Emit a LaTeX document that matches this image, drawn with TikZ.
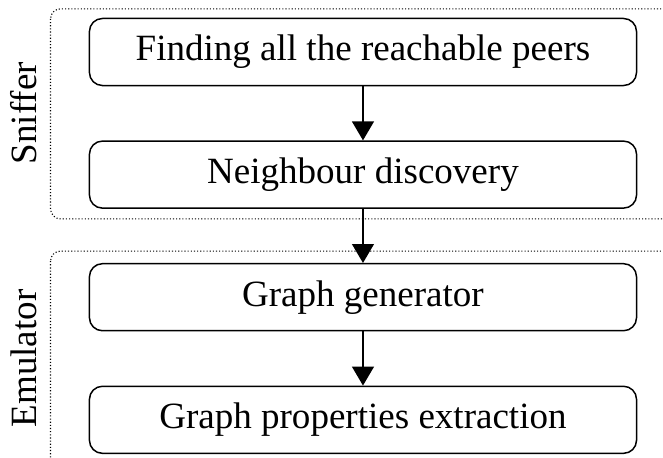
\documentclass[tikz,border=0pt]{standalone}
\usepackage{fontspec}
\setmainfont{Liberation Serif}
\usepackage{tikz}
\usetikzlibrary{arrows.meta}
\usetikzlibrary{positioning}
\usetikzlibrary{calc}
\tikzstyle{stage}=[draw,rounded corners=3.5pt,minimum width=147.7pt,minimum height=18.1pt,inner sep=1pt]
\tikzstyle{group}=[rounded corners=2.7pt,line width=0.3pt,dash pattern=on 0.3pt off 0.55pt]
\tikzstyle{flow}=[-{Triangle[length=5.1pt,width=5.9pt]}]

\begin{document}
\begin{tikzpicture}[node distance=14.6pt]
\useasboundingbox (-98pt,14.04pt) rectangle (81pt,-109.4pt);
\node [stage] (find) {Finding all the reachable peers};
\node [stage,below=of find] (neigh) {Neighbour discovery};
\node [stage,below=of neigh] (gen) {Graph generator};
\node [stage,below=of gen] (prop) {Graph properties extraction};
% dotted groups
\draw [group] ($(find.north west)+(-10.3pt,2.4pt)$) rectangle ($(neigh.south east)+(60pt,-2.7pt)$);
\draw [group] ($(gen.north west)+(-10.3pt,3.2pt)$) rectangle ($(prop.south east)+(60pt,-4pt)$);
\node [rotate=90] (sniff) at ($(find.west)!0.5!(neigh.west)+(-17.6pt,0)$) {Sniffer};
\node [rotate=90] (emul) at ($(gen.west)!0.5!(prop.west)+(-17.6pt,0)$) {Emulator};
% arrows
\draw [flow] (find) -- (neigh);
\draw [flow] (neigh) -- (gen);
\draw [flow] (gen) -- (prop);
\end{tikzpicture}
\end{document}
